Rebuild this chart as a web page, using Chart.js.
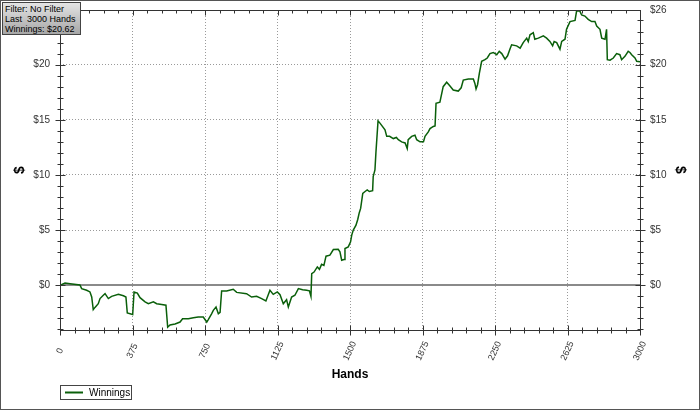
<!DOCTYPE html>
<html>
<head>
<meta charset="utf-8">
<script src="https://cdn.jsdelivr.net/npm/chart.js@4.4.0/dist/chart.umd.min.js"></script>
<style>
  html, body { margin: 0; padding: 0; background: #fff; }
  #wrap { position: relative; width: 700px; height: 410px; }
  #frame { position: absolute; left: 0; top: 0; width: 698px; height: 408px; border: 1px solid #555; pointer-events: none; }
  #info { position: absolute; left: 2px; top: 2px; width: 75px; height: 30px; padding: 1px 0 0 2px;
          border: 1px solid #444; background: linear-gradient(#e4e4e4, #a6a6a6);
          font: 9px "Liberation Sans", Arial, sans-serif; line-height: 10px; color: #000; white-space: pre; }
</style>
</head>
<body>
<div id="wrap">
  <canvas id="chart" width="700" height="410"></canvas>
  <div id="info"></div>
  <div id="frame"></div>
</div>
<script>
// cumulative winnings
const hands = [0,26,52,103,112,138,155,164,172,181,198,207,224,233,250,267,302,328,341,348,376,383,400,414,440,457,483,500,526,548,
  557,569,595,621,634,664,690,715,741,759,767,784,793,807,819,828,836,862,896,914,965,991,1017,1043,1065,1086,1103,1124,1138,1155,
  1172,1181,1198,1215,1233,1255,1276,1290,1298,1302,1314,1331,1342,1353,1365,1376,1396,1414,1439,1448,1457,1469,1474,1491,1503,1509,1517,1531,1540,1548,
  1555,1566,1578,1589,1600,1617,1620,1629,1634,1645,1655,1681,1690,1705,1724,1740,1750,1767,1785,1796,1801,1819,1836,1845,1862,1880,1888,1905,1914,1931,
  1940,1945,1965,1982,2000,2015,2034,2060,2075,2086,2112,2138,2146,2152,2160,2169,2181,2198,2210,2224,2241,2259,2272,2285,2302,2315,2327,2336,2362,2380,
  2396,2414,2422,2431,2448,2456,2474,2500,2517,2534,2548,2556,2569,2586,2595,2612,2620,2638,2664,2672,2689,2698,2715,2732,2750,2767,2776,2793,2802,2819,
  2827,2831,2845,2862,2879,2896,2905,2922,2939,2948,2957,2974,2983,3000];
const winnings = [0,0.2,0.15,0.03,-0.3,-0.45,-0.6,-1.06,-2.2,-2.0,-1.67,-1.2,-0.9,-0.76,-1.2,-1.0,-0.82,-0.95,-1.06,-2.5,-2.64,-0.6,-0.7,-1.12,-1.5,-1.67,-1.5,-1.67,-1.73,-1.8,
  -3.8,-3.6,-3.5,-3.33,-3.03,-3.03,-2.94,-2.88,-2.88,-3.33,-3.1,-2.58,-2.27,-1.97,-2.58,-2.45,-0.52,-0.52,-0.36,-0.64,-0.76,-1.06,-1.0,-1.2,-1.42,-0.45,-0.82,-0.6,-0.85,-1.67,
  -1.3,-1.97,-1.06,-0.9,-0.3,-0.4,-0.45,-0.5,-1.0,1.06,1.2,1.67,1.45,1.9,1.8,2.64,2.73,3.24,3.27,3.03,2.27,2.33,3.33,3.48,3.94,4.55,5.0,5.45,5.97,6.58,
  6.97,8.33,8.5,8.64,8.5,8.58,9.85,10.45,12.0,14.9,14.7,14.1,13.5,13.5,13.3,13.4,13.2,13.0,12.9,12.4,13.2,13.5,13.6,13.2,13.0,13.0,13.5,13.9,14.2,14.4,
  14.45,16.5,16.6,18.0,18.4,18.1,17.7,17.6,17.9,18.6,18.7,18.7,18.3,17.8,18.2,19.2,20.3,20.45,20.6,21.0,21.1,20.9,21.2,21.0,20.5,20.8,21.4,21.8,21.7,21.5,
  22.0,22.4,22.1,22.7,22.9,22.3,22.4,22.6,22.4,22.1,21.7,22.1,22.0,21.4,22.1,22.3,23.2,23.9,24.0,24.85,24.85,24.5,24.4,24.1,23.9,23.9,23.5,23.2,22.4,22.3,
  23.2,20.45,20.4,20.6,21.0,20.9,20.45,20.75,21.2,21.1,20.9,20.6,20.3,20.25];

const xTicks = [0,375,750,1125,1500,1875,2250,2625,3000];
const yTicks = [0,5,10,15,20];
const yTopLabel = "$26";
const seriesLabel = "Winnings";
const infoLines = ["Filter: No Filter", "Last  3000 Hands", "Winnings: $20.62"];
const X_MIN = 0, X_MAX = 3000, Y_MIN = -4.05, Y_MAX = 24.95;

const FONT = "'Liberation Sans', Arial, sans-serif";
document.getElementById("info").textContent = infoLines.join("\n");

const crisp = v => Math.round(v) + 0.5;

const framePlugin = {
  id: "framePlugin",
  beforeDatasetsDraw(chart) {
    const {ctx, chartArea: a, scales: {y}} = chart;
    const y0 = Math.round(y.getPixelForValue(0));
    ctx.save();
    ctx.strokeStyle = "#8a8a8a"; ctx.lineWidth = 2;
    ctx.beginPath(); ctx.moveTo(a.left, y0); ctx.lineTo(a.right, y0); ctx.stroke();
    ctx.restore();
  },
  afterDatasetsDraw(chart) {
    const {ctx, chartArea: a, scales: {x, y}} = chart;
    const L = crisp(a.left), R = crisp(a.right), T = crisp(a.top), B = crisp(a.bottom);
    ctx.save();
    ctx.strokeStyle = "#333"; ctx.lineWidth = 1;
    ctx.strokeRect(L, T, R - L, B - T);
    ctx.beginPath();
    for (let v = X_MIN; v <= X_MAX; v += 75) {
      const px = crisp(x.getPixelForValue(v)), len = v % 375 === 0 ? 5 : 3;
      ctx.moveTo(px, B - len); ctx.lineTo(px, B + len);
      ctx.moveTo(px, T); ctx.lineTo(px, T + len);
    }
    for (let v = Math.ceil(Y_MIN); v <= Math.floor(Y_MAX); v++) {
      const py = crisp(y.getPixelForValue(v)), len = v % 5 === 0 ? 5 : 3;
      ctx.moveTo(L - len, py); ctx.lineTo(L + len, py);
      ctx.moveTo(R - len, py); ctx.lineTo(R + len, py);
    }
    ctx.stroke();

    // rotated hand labels
    ctx.fillStyle = "#333"; ctx.font = "9px " + FONT;
    ctx.textAlign = "center"; ctx.textBaseline = "middle";
    xTicks.forEach(v => {
      ctx.save();
      ctx.translate(x.getPixelForValue(v), a.bottom + 21);
      ctx.rotate(-65 * Math.PI / 180);
      ctx.fillText(String(v), 0, 0);
      ctx.restore();
    });

    // legend
    const ds = chart.data.datasets[0];
    ctx.strokeStyle = "#444"; ctx.lineWidth = 1;
    ctx.strokeRect(60.5, 385.5, 71, 14);
    ctx.strokeStyle = ds.borderColor; ctx.lineWidth = 2;
    ctx.beginPath(); ctx.moveTo(65, 392.5); ctx.lineTo(83, 392.5); ctx.stroke();
    ctx.fillStyle = "#000"; ctx.font = "10px " + FONT; ctx.textAlign = "left";
    ctx.fillText(ds.label, 89, 393);
    ctx.restore();
  }
};

const fixY = s => { s.width = 60; s.paddingTop = 0; s.paddingBottom = 0; };

new Chart(document.getElementById("chart"), {
  type: "line",
  data: {
    datasets: [{
      label: seriesLabel,
      data: hands.map((h, i) => ({x: h, y: winnings[i]})),
      borderColor: "#0a5f0a", borderWidth: 1.5, pointRadius: 0, fill: false, tension: 0,
    }],
  },
  options: {
    responsive: false, animation: false,
    layout: {padding: {top: 10, bottom: 24, left: 0, right: 0}},
    plugins: {legend: {display: false}, tooltip: {enabled: false}},
    scales: {
      x: {
        type: "linear", min: X_MIN, max: X_MAX,
        afterBuildTicks: s => { s.ticks = xTicks.map(v => ({value: v})); },
        ticks: {display: false},
        grid: {color: "#9a9a9a", drawTicks: false},
        border: {display: false, dash: [1, 2]},
        title: {display: true, text: "Hands", color: "#000", font: {family: FONT, size: 12, weight: "bold"}, padding: {top: 0, bottom: 4}},
        afterFit: s => { s.height = 56; s.paddingLeft = 0; s.paddingRight = 0; },
      },
      y: {
        position: "left", min: Y_MIN, max: Y_MAX,
        afterBuildTicks: s => { s.ticks = yTicks.map(v => ({value: v})); },
        ticks: {callback: v => "$" + v, color: "#333", font: {family: FONT, size: 10}, padding: 10},
        grid: {color: "#9a9a9a", drawTicks: false},
        border: {display: false, dash: [1, 2]},
        title: {display: true, text: "$", color: "#000", font: {family: FONT, size: 14, weight: "bold"}, padding: {top: 12, bottom: 0}},
        afterFit: fixY,
      },
      y2: {
        position: "right", min: Y_MIN, max: Y_MAX,
        afterBuildTicks: s => { s.ticks = yTicks.concat([Y_MAX]).map(v => ({value: v})); },
        ticks: {callback: v => v === Y_MAX ? yTopLabel : "$" + v, color: "#333", font: {family: FONT, size: 10}, padding: 10},
        grid: {drawOnChartArea: false, drawTicks: false},
        border: {display: false},
        title: {display: true, text: "$", color: "#000", font: {family: FONT, size: 14, weight: "bold"}, padding: {top: 12, bottom: 0}},
        afterFit: fixY,
      },
    },
  },
  plugins: [framePlugin],
});
</script>
</body>
</html>
